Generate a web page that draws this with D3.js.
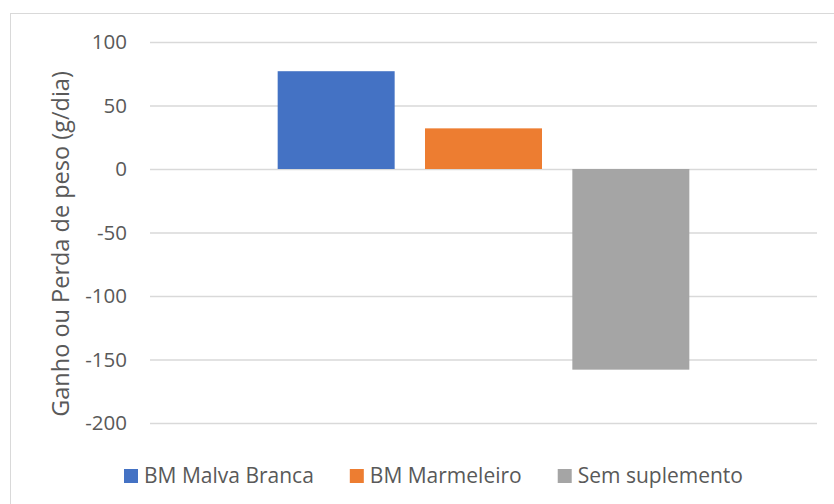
<!DOCTYPE html>
<html><head><meta charset="utf-8">
<script src="https://cdn.jsdelivr.net/npm/d3@7"></script>
<style>body{margin:0;background:#fff;} text{font-family:"Open Sans",sans-serif;fill:#595959;}</style>
</head><body>
<svg id="c" width="834" height="504"></svg>
<script>
const categories = ["Ganho/Perda"];
const seriesNames = ["BM Malva Branca", "BM Marmeleiro", "Sem suplemento"];
const seriesValues = [77, 32, -158];
const seriesColors = ["#4472C4", "#ED7D31", "#A5A5A5"];
const yTicks = [-200, -150, -100, -50, 0, 50, 100];
const yTitle = "Ganho ou Perda de peso (g/dia)";

const svg = d3.select("#c");
svg.append("rect").attr("x",10.5).attr("y",13.5).attr("width",860).attr("height",520)
  .attr("fill","#fff").attr("stroke","#D9D9D9");

const plot = {l:150, r:817, t:42, b:423};
const y = d3.scaleLinear().domain([-200,100]).range([plot.b, plot.t]);
const x0 = d3.scaleBand().domain(categories).range([plot.l, plot.r]).paddingInner(0).paddingOuter(0.2545);
const x1 = d3.scaleBand().domain(seriesNames).range([0, x0.bandwidth()]).paddingInner(0.206).paddingOuter(0.103);

const yAxis = d3.axisLeft(y).tickValues(yTicks).tickFormat(d=>String(d)).tickSize(-(plot.r-plot.l)).tickPadding(23);
const ga = svg.append("g").attr("transform",`translate(${plot.l},0)`).call(yAxis);
ga.select(".domain").remove();
ga.selectAll(".tick line").attr("stroke","#D9D9D9").attr("stroke-width",1.3);
ga.selectAll(".tick text").attr("font-size",20.5).attr("fill","#595959").style("font-family","'Open Sans',sans-serif");

const data = seriesNames.map((s,i)=>({s, v:seriesValues[i], c:seriesColors[i]}));
svg.append("g").selectAll("rect").data(data).join("rect")
  .attr("x", d=>x0(categories[0]) + x1(d.s))
  .attr("width", x1.bandwidth())
  .attr("y", d=>y(Math.max(0,d.v)))
  .attr("height", d=>Math.abs(y(d.v)-y(0)))
  .attr("fill", d=>d.c);

svg.append("text").attr("transform",`translate(69,244) rotate(-90)`)
  .attr("text-anchor","middle").attr("font-size",23.5).text(yTitle);

// legend
const lg = svg.append("g");
let cx = 0;
data.forEach((d,i)=>{
  const g = lg.append("g").attr("transform",`translate(${cx},0)`);
  g.append("rect").attr("x",0).attr("y",0).attr("width",14).attr("height",14).attr("fill",d.c);
  const t = g.append("text").attr("x",20).attr("y",14).attr("font-size",21).text(d.s);
  const w = t.node().getComputedTextLength();
  cx += 20 + w + 36;
});
lg.attr("transform",`translate(124,469)`);
</script>
</body></html>
